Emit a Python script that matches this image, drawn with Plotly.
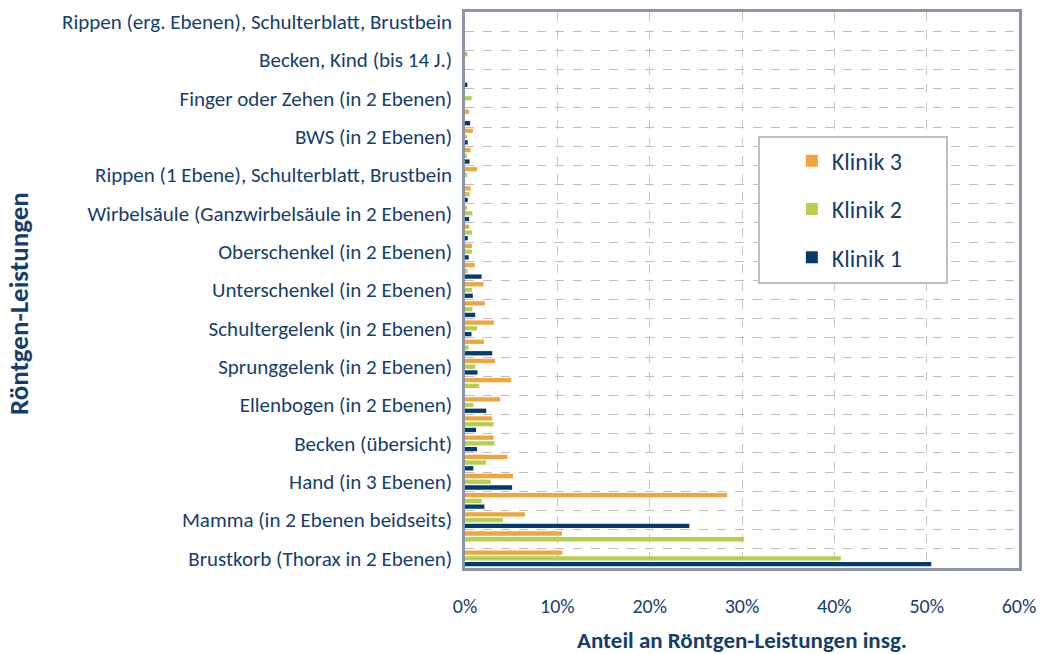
import plotly.graph_objects as go

# Categories from bottom (index 0) to top; unnamed rows have no visible label
categories = [
    "Brustkorb (Thorax in 2 Ebenen)", "",
    "Mamma (in 2 Ebenen beidseits)", "",
    "Hand (in 3 Ebenen)", "",
    "Becken (übersicht)", "",
    "Ellenbogen (in 2 Ebenen)", "",
    "Sprunggelenk (in 2 Ebenen)", "",
    "Schultergelenk (in 2 Ebenen)", "",
    "Unterschenkel (in 2 Ebenen)", "",
    "Oberschenkel (in 2 Ebenen)", "",
    "Wirbelsäule (Ganzwirbelsäule in 2 Ebenen)", "",
    "Rippen (1 Ebene), Schulterblatt, Brustbein", "",
    "BWS (in 2 Ebenen)", "",
    "Finger oder Zehen (in 2 Ebenen)", "",
    "Becken, Kind (bis 14 J.)", "",
    "Rippen (erg. Ebenen), Schulterblatt, Brustbein",
]

klinik1 = [50.5, 0.0, 24.3, 2.1, 5.1, 0.9, 1.3, 1.2, 2.3, 0.0,
           1.35, 2.95, 0.7, 1.1, 0.85, 1.8, 0.4, 0.3, 0.45, 0.3,
           0.0, 0.5, 0.3, 0.55, 0.0, 0.25, 0.0, 0.0, 0.0]
klinik2 = [40.7, 30.2, 4.1, 1.8, 2.8, 2.3, 3.2, 3.1, 0.9, 1.55,
           1.1, 0.4, 1.3, 0.8, 0.75, 0.3, 0.75, 0.75, 0.8, 0.5,
           0.15, 0.18, 0.18, 0.0, 0.72, 0.0, 0.0, 0.0, 0.0]
klinik3 = [10.55, 10.5, 6.5, 28.4, 5.2, 4.6, 3.1, 2.95, 3.8, 5.0,
           3.25, 2.05, 3.15, 2.15, 2.0, 1.05, 0.75, 0.45, 0.15, 0.6,
           1.3, 0.6, 0.85, 0.45, 0.0, 0.0, 0.25, 0.0, 0.0]

x_ticks = [0, 10, 20, 30, 40, 50, 60]
x_tick_labels = ["0%", "10%", "20%", "30%", "40%", "50%", "60%"]

# first trace is drawn lowest within each group; rank sets legend order
series = [("Klinik 1", klinik1, "#053A6B", 3),
          ("Klinik 2", klinik2, "#B5CF4F", 2),
          ("Klinik 3", klinik3, "#EFA63C", 1)]

FONT = "Carlito, Lato, sans-serif"
TXT = "#163E6C"

ypos = list(range(len(categories)))

fig = go.Figure()
for name, vals, col, rank in series:
    fig.add_trace(go.Bar(
        x=vals, y=ypos, orientation="h", name=name,
        marker=dict(color=col, line=dict(width=0)),
        legendgroup=name, legendrank=rank,
    ))

fig.update_layout(
    width=1046, height=654,
    margin=dict(l=465, r=27, t=12, b=86, autoexpand=False),
    paper_bgcolor="white", plot_bgcolor="white",
    barmode="group", bargap=0.1, bargroupgap=0.25,
    font=dict(family=FONT, color=TXT),
    showlegend=True,
    legend=dict(
        x=0.534, y=0.772, xanchor="left", yanchor="top",
        traceorder="grouped", tracegroupgap=14,
        bgcolor="rgba(0,0,0,0)", borderwidth=0,
        font=dict(size=24, color=TXT, family=FONT),
        indentation=31,
    ),
    shapes=[dict(
        type="rect", xref="paper", yref="paper", layer="above",
        x0=0.5307, x1=0.870, y0=0.5126, y1=0.7752,
        fillcolor="white", line=dict(color="#BFBFBF", width=2),
    )],
    annotations=[dict(
        text="<b>Röntgen-Leistungen</b>", textangle=-90,
        xref="paper", yref="paper", x=(18 - 465) / 554, y=(568 - 304) / 556,
        xanchor="center", yanchor="middle", showarrow=False,
        font=dict(size=27, color=TXT, family=FONT),
    )],
)

fig.update_xaxes(
    range=[0, 60], tickvals=x_ticks, ticktext=x_tick_labels,
    tickfont=dict(size=20, color=TXT),
    showgrid=True, gridcolor="#C9C6BE", griddash="dash", gridwidth=1,
    showline=True, linecolor="#8C95A8", linewidth=2.5, mirror=True,
    ticks="", ticklabelstandoff=18, zeroline=False, automargin=False,
    title=dict(text="<b>Anteil an Röntgen-Leistungen insg.</b>",
               font=dict(size=23, color=TXT), standoff=30),
)

fig.update_yaxes(
    range=[-0.5, len(categories) - 0.5],
    tickmode="array", tickvals=ypos, ticktext=categories,
    tickfont=dict(size=21, color=TXT),
    showgrid=False,
    minor=dict(tickmode="array", tickvals=[i + 0.5 for i in range(len(categories) - 1)],
               showgrid=True, gridcolor="#BDBDC8", griddash="dash", gridwidth=1, ticks=""),
    showline=True, linecolor="#8C95A8", linewidth=2.5, mirror=True,
    ticks="", ticklabelstandoff=6, zeroline=False, automargin=False,
)

fig.write_html("out.html", config={"displayModeBar": False},
               post_script="document.body.style.margin='0';")
